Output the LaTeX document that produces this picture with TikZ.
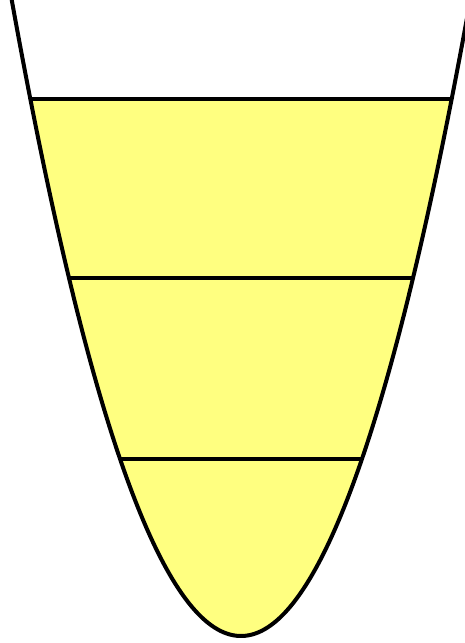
\documentclass[tikz,border=0pt]{standalone}
\definecolor{yfill}{RGB}{255,255,128}
\tikzset{
  outline/.style={line width=4pt, black, line join=round},
  level/.style={line width=4pt, black}
}
\begin{document}
\begin{tikzpicture}[x=1pt,y=-1pt]
\useasboundingbox (0,0) rectangle (465,643);
\fill[yfill] plot[domain=-210.7:210.7, samples=120, smooth] ({241+\x},{636-121*(\x/100)*(\x/100)}) -- cycle;
\draw[level] ({241-210.7},99) -- ({241+210.7},99);
\draw[level] ({241-172.0},278) -- ({241+172.0},278);
\draw[level] ({241-120.9},459) -- ({241+120.9},459);
\draw[outline] plot[domain=-231:231, samples=150, smooth] ({241+\x},{636-121*(\x/100)*(\x/100)});
\end{tikzpicture}
\end{document}
